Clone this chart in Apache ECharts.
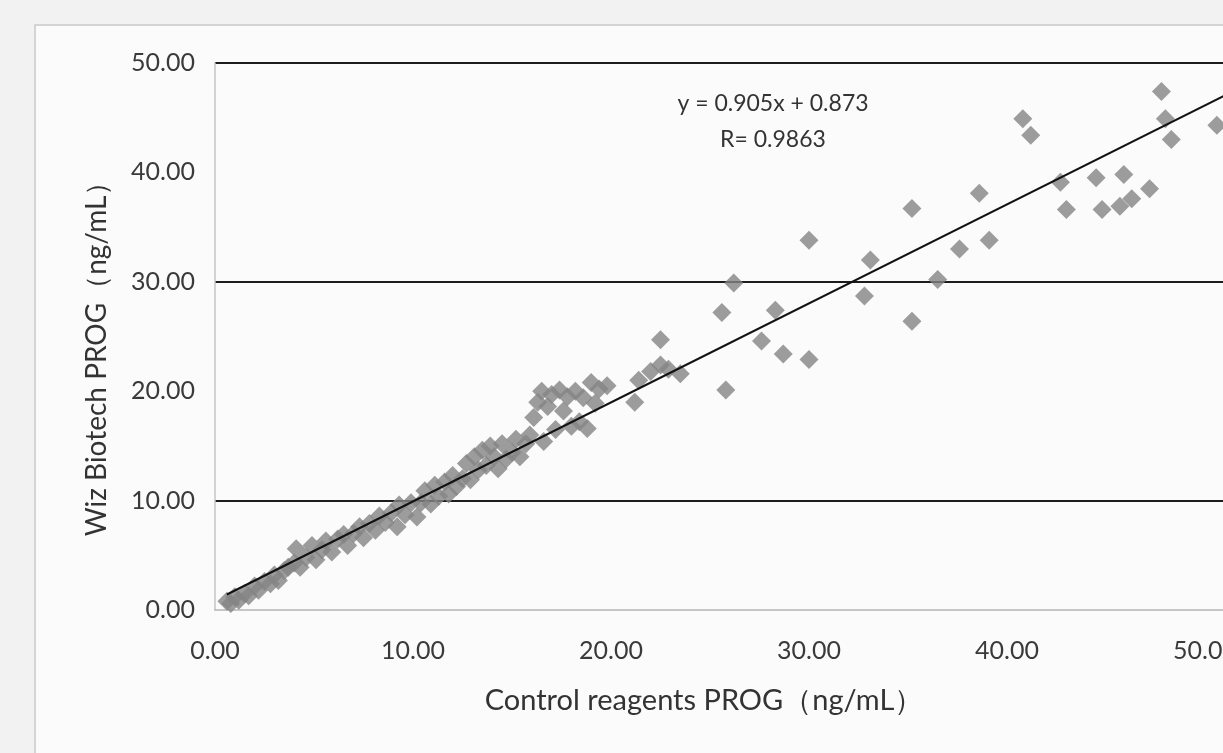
<!DOCTYPE html>
<html>
<head>
<meta charset="utf-8">
<title>PROG comparison</title>
<script src="https://cdn.jsdelivr.net/npm/echarts@6/dist/echarts.min.js"></script>
<style>
  html, body { margin: 0; padding: 0; background: #f2f2f2; }
  #chart { width: 1223px; height: 753px; }
</style>
</head>
<body>
<div id="chart"></div>
<script>
// control reagent result (x) and Wiz Biotech result (y)
var controlPROG = [
    0.6, 0.8, 1.0, 1.2, 1.5, 1.7, 2.0, 2.2, 2.5, 2.8, 3.0, 3.2,
    3.5, 3.7, 4.0, 4.1, 4.3, 4.6, 4.9, 5.1, 5.4, 5.6, 5.9, 6.2,
    6.5, 6.7, 7.0, 7.3, 7.5, 7.8, 8.1, 8.3, 8.6, 8.9, 9.2, 9.3, 9.6, 9.9,
    10.2, 10.4, 10.6, 10.9, 11.1, 11.3, 11.6, 11.8, 12.0, 12.2, 12.5, 12.7, 12.9,
    13.1, 13.3, 13.5, 13.7, 13.9, 14.1, 14.3, 14.5, 14.7, 15.0, 15.2, 15.4, 15.7, 15.9,
    16.1, 16.3, 16.5, 16.6, 16.8, 17.0, 17.2, 17.4, 17.6, 17.8, 18.0, 18.2, 18.4, 18.6, 18.8,
    19.0, 19.2, 19.4, 19.8, 21.2, 21.4, 22.0, 22.5, 22.9, 23.5,
    22.5, 25.6, 26.2, 25.8, 27.6, 28.3, 28.7, 30.0, 30.0, 32.8, 33.1,
    35.2, 35.2, 36.5, 37.6, 38.6, 39.1, 40.8, 41.2, 42.7, 43.0,
    44.5, 44.8, 45.7, 45.9, 46.3, 47.2, 47.8, 48.0, 48.3, 50.6
];
var wizPROG = [
    0.8, 0.6, 1.2, 0.9, 1.5, 1.3, 2.2, 1.8, 2.6, 2.4, 3.2, 2.7,
    3.6, 3.9, 4.3, 5.6, 3.9, 4.8, 5.9, 4.6, 5.5, 6.3, 5.3, 6.5,
    6.9, 5.9, 7.0, 7.6, 6.6, 7.9, 7.3, 8.6, 8.0, 8.9, 7.6, 9.6, 8.7, 9.8,
    8.5, 9.8, 10.9, 9.7, 11.4, 10.4, 11.7, 10.6, 12.3, 11.3, 12.0, 13.4, 11.9,
    14.0, 12.8, 14.6, 13.2, 15.0, 14.0, 12.9, 15.2, 13.8, 14.4, 15.6, 14.0, 15.2, 16.0,
    17.6, 19.0, 20.0, 15.4, 18.6, 19.7, 16.5, 20.1, 18.2, 19.5, 16.8, 20.0, 17.2, 19.4, 16.6,
    20.8, 18.9, 20.2, 20.5, 19.0, 21.0, 21.8, 22.4, 22.0, 21.6,
    24.7, 27.2, 29.9, 20.1, 24.6, 27.4, 23.4, 22.9, 33.8, 28.7, 32.0,
    26.4, 36.7, 30.2, 33.0, 38.1, 33.8, 44.9, 43.4, 39.1, 36.6,
    39.5, 36.6, 36.9, 39.8, 37.6, 38.5, 47.4, 44.9, 43.0, 44.3
];

// linear fit printed on the chart
var trendSlope = 0.905;
var trendIntercept = 0.873;
var trendFrom = 0.6;
var trendTo = 52;
var equationLines = ['y = 0.905x + 0.873', 'R= 0.9863'];

var xTitle = 'Control reagents PROG（ng/mL）';
var yTitle = 'Wiz Biotech PROG（ng/mL）';

var points = controlPROG.map(function (x, i) { return [x, wizPROG[i]]; });
var trendLine = [trendFrom, trendTo].map(function (x) {
    return [x, trendSlope * x + trendIntercept];
});

var font = 'Lato, "Open Sans", sans-serif';
var chart = echarts.init(document.getElementById('chart'));

chart.setOption({
    backgroundColor: '#f2f2f2',
    animation: false,
    graphic: [
        {
            type: 'rect', z: -10, silent: true,
            shape: { x: 35, y: 25, width: 1300, height: 800 },
            style: { fill: '#fbfbfb', stroke: '#c9c9c9', lineWidth: 1.5 }
        },
        {
            type: 'text', x: 773, y: 104, z: 10,
            style: { text: equationLines[0], font: '23px ' + font, fill: '#333', align: 'center', verticalAlign: 'middle' }
        },
        {
            type: 'text', x: 773, y: 140, z: 10,
            style: { text: equationLines[1], font: '23px ' + font, fill: '#333', align: 'center', verticalAlign: 'middle' }
        },
        {
            type: 'text', x: 704, y: 701, z: 10,
            style: { text: xTitle, font: '29px ' + font, fill: '#333', align: 'center', verticalAlign: 'middle' }
        },
        {
            type: 'text', x: 97, y: 352, z: 10, rotation: Math.PI / 2,
            style: { text: yTitle, font: '28px ' + font, fill: '#333', align: 'center', verticalAlign: 'middle' }
        }
    ],
    // the scan is cropped on the right, so the plot runs past the page edge
    grid: { left: 215, top: 63, width: 1188, bottom: 143, outerBoundsMode: 'none', containLabel: false },
    xAxis: {
        type: 'value',
        min: 0, max: 60, interval: 10,
        axisLine: { show: true, lineStyle: { color: '#b5b5b5', width: 1.5 } },
        axisTick: { show: false },
        axisLabel: {
            margin: 28, fontFamily: font, fontSize: 25, color: '#3a3a3a',
            formatter: function (v) { return v.toFixed(2); }
        },
        splitLine: { show: false }
    },
    yAxis: {
        type: 'value',
        min: 0, max: 50, interval: 10,
        axisLine: { show: true, lineStyle: { color: '#c4c4c4', width: 1.5 } },
        axisTick: { show: false },
        axisLabel: {
            margin: 20, fontFamily: font, fontSize: 25, color: '#3a3a3a',
            formatter: function (v) { return v.toFixed(2); }
        },
        splitLine: {
            show: true,
            lineStyle: { color: ['transparent', '#1c1c1c'], width: 2 }
        }
    },
    series: [
        {
            type: 'scatter',
            data: points,
            symbol: 'diamond',
            symbolSize: 19,
            itemStyle: { color: '#848484' },
            z: 2
        },
        {
            type: 'line',
            data: trendLine,
            showSymbol: false,
            lineStyle: { color: '#111', width: 2 },
            z: 3
        }
    ]
});
</script>
</body>
</html>
